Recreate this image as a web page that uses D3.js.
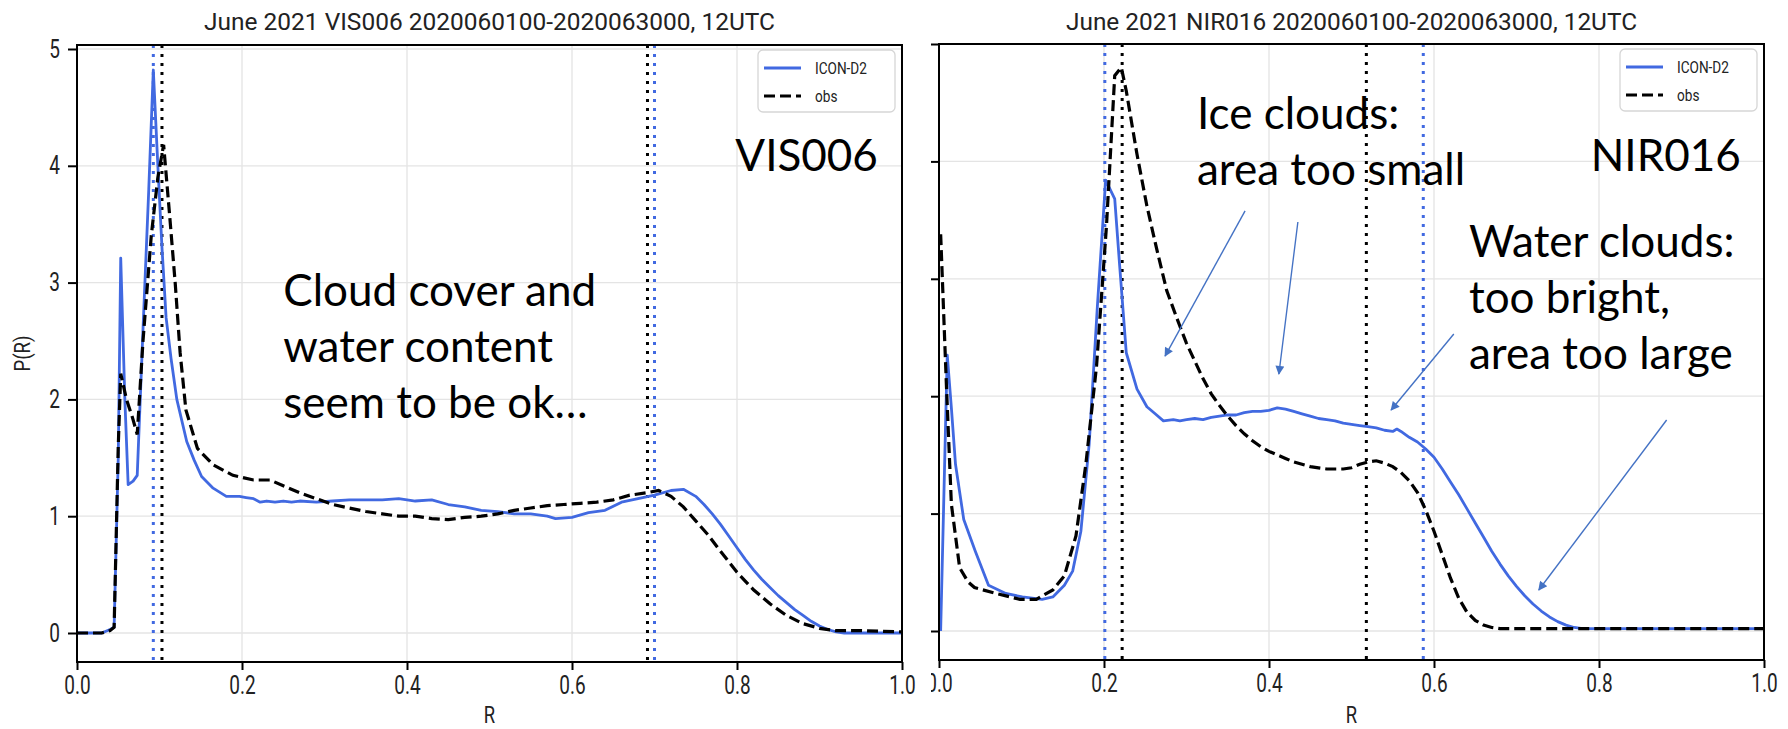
<!DOCTYPE html>
<html>
<head>
<meta charset="utf-8">
<script src="https://cdn.jsdelivr.net/npm/d3@7"></script>
<style>
  body { margin: 0; background: #fff; }
  text { font-family: Roboto, sans-serif; }
  .note { font-family: Lato, "Open Sans", sans-serif; }
</style>
</head>
<body>
<div id="chart"></div>
<script>
var xTicks = [0, 0.2, 0.4, 0.6, 0.8, 1.0];
var yTicks = [0, 1, 2, 3, 4, 5];
var seriesNames = ["ICON-D2", "obs"];
var titles = ["June 2021 VIS006 2020060100-2020063000, 12UTC",
              "June 2021 NIR016 2020060100-2020063000, 12UTC"];

// VIS006 histograms [R, P(R)]
var visModel = [[0,0],[0.02,0],[0.03,0],[0.04,0.03],[0.045,0.05],[0.05,1.5],[0.053,3.21],[0.058,2.0],
  [0.062,1.27],[0.068,1.3],[0.073,1.35],[0.08,2.6],[0.087,3.8],[0.0925,4.82],[0.098,4.0],[0.103,3.3],
  [0.108,2.7],[0.114,2.35],[0.121,2.0],[0.133,1.64],[0.142,1.48],[0.151,1.34],[0.165,1.24],[0.181,1.17],
  [0.197,1.17],[0.205,1.16],[0.214,1.15],[0.222,1.12],[0.23,1.13],[0.24,1.12],[0.25,1.13],[0.26,1.12],
  [0.27,1.13],[0.29,1.12],[0.31,1.13],[0.33,1.14],[0.35,1.14],[0.37,1.14],[0.39,1.15],[0.41,1.13],
  [0.43,1.14],[0.45,1.1],[0.47,1.08],[0.49,1.05],[0.51,1.04],[0.53,1.02],[0.55,1.02],[0.57,1.0],
  [0.58,0.98],[0.6,0.99],[0.62,1.03],[0.64,1.05],[0.66,1.12],[0.68,1.15],[0.7,1.18],[0.72,1.22],
  [0.735,1.23],[0.75,1.17],[0.76,1.1],[0.77,1.02],[0.78,0.93],[0.79,0.83],[0.8,0.73],[0.81,0.63],
  [0.82,0.54],[0.83,0.46],[0.84,0.39],[0.85,0.32],[0.86,0.26],[0.87,0.2],[0.88,0.15],[0.89,0.1],
  [0.9,0.06],[0.91,0.03],[0.92,0.01],[0.93,0],[1.0,0]];
var visObs = [[0,0],[0.03,0],[0.04,0.02],[0.045,0.05],[0.05,1.6],[0.053,2.22],[0.06,2.0],[0.067,1.85],
  [0.073,1.7],[0.08,2.5],[0.09,3.4],[0.098,3.9],[0.105,4.18],[0.112,3.6],[0.119,3.0],[0.125,2.4],
  [0.132,1.91],[0.146,1.58],[0.165,1.44],[0.189,1.35],[0.214,1.31],[0.234,1.31],[0.25,1.26],[0.27,1.2],
  [0.29,1.15],[0.31,1.1],[0.33,1.07],[0.35,1.04],[0.37,1.02],[0.39,1.0],[0.41,1.0],[0.43,0.98],
  [0.45,0.97],[0.47,0.99],[0.49,1.0],[0.51,1.02],[0.53,1.05],[0.55,1.07],[0.57,1.09],[0.59,1.1],
  [0.61,1.11],[0.63,1.12],[0.65,1.14],[0.67,1.18],[0.69,1.2],[0.705,1.22],[0.72,1.17],[0.735,1.08],
  [0.75,0.96],[0.765,0.84],[0.78,0.7],[0.8,0.52],[0.82,0.37],[0.84,0.25],[0.86,0.15],[0.88,0.08],
  [0.9,0.04],[0.92,0.02],[0.95,0.02],[1.0,0.01]];
var visModelMarks = [0.0925, 0.700];
var visObsMarks = [0.103, 0.6915];

// NIR016 histograms [R, P(R)]
var nirModel = [[0.002,0],[0.01,2.35],[0.015,1.9],[0.02,1.42],[0.03,0.95],[0.044,0.68],[0.06,0.39],
  [0.081,0.32],[0.101,0.29],[0.125,0.27],[0.138,0.29],[0.152,0.39],[0.162,0.51],[0.172,0.85],
  [0.182,1.59],[0.192,2.77],[0.202,3.84],[0.213,3.68],[0.219,3.11],[0.227,2.37],[0.24,2.06],
  [0.252,1.91],[0.262,1.85],[0.272,1.79],[0.284,1.8],[0.292,1.79],[0.3,1.8],[0.31,1.81],[0.32,1.8],
  [0.33,1.82],[0.34,1.83],[0.35,1.84],[0.36,1.84],[0.37,1.86],[0.38,1.87],[0.39,1.87],[0.4,1.88],
  [0.41,1.9],[0.42,1.89],[0.43,1.87],[0.44,1.85],[0.45,1.83],[0.46,1.81],[0.47,1.8],[0.48,1.79],
  [0.49,1.77],[0.5,1.76],[0.51,1.75],[0.52,1.74],[0.53,1.73],[0.54,1.71],[0.55,1.7],[0.555,1.72],
  [0.56,1.7],[0.57,1.65],[0.58,1.61],[0.59,1.55],[0.6,1.48],[0.61,1.38],[0.62,1.27],[0.63,1.16],
  [0.64,1.04],[0.65,0.92],[0.66,0.8],[0.67,0.68],[0.68,0.57],[0.69,0.47],[0.7,0.38],[0.71,0.3],
  [0.72,0.23],[0.73,0.17],[0.74,0.12],[0.75,0.08],[0.76,0.05],[0.77,0.03],[0.78,0.02],[1.0,0.02]];
var nirObs = [[0.002,3.38],[0.009,2.09],[0.015,1.08],[0.025,0.54],[0.035,0.42],[0.043,0.37],
  [0.069,0.32],[0.098,0.27],[0.118,0.27],[0.138,0.35],[0.152,0.47],[0.166,0.81],[0.178,1.42],
  [0.191,2.26],[0.203,3.45],[0.213,4.73],[0.221,4.8],[0.227,4.6],[0.24,4.06],[0.252,3.62],
  [0.264,3.25],[0.276,2.9],[0.288,2.67],[0.3,2.45],[0.31,2.3],[0.32,2.15],[0.33,2.02],[0.34,1.92],
  [0.35,1.83],[0.36,1.75],[0.37,1.68],[0.38,1.62],[0.39,1.57],[0.4,1.53],[0.41,1.5],[0.42,1.47],
  [0.43,1.44],[0.44,1.42],[0.45,1.4],[0.46,1.39],[0.47,1.38],[0.48,1.38],[0.49,1.38],[0.5,1.39],
  [0.51,1.42],[0.52,1.44],[0.53,1.45],[0.54,1.43],[0.55,1.4],[0.56,1.35],[0.57,1.28],[0.58,1.18],
  [0.59,1.03],[0.6,0.85],[0.61,0.65],[0.62,0.45],[0.63,0.28],[0.64,0.16],[0.65,0.09],[0.66,0.05],
  [0.67,0.03],[0.68,0.02],[1.0,0.02]];
var nirModelMarks = [0.201, 0.587];
var nirObsMarks = [0.222, 0.518];

// annotations, in data coordinates of each panel
var notes = [
  {panel: 0, r: 0.798, p: 3.955, lines: ["VIS006"]},
  {panel: 0, r: 0.25, p: 2.80, lines: ["Cloud cover and", "water content", "seem to be ok\u2026"]},
  {panel: 1, r: 0.3127, p: 4.276, lines: ["Ice clouds:", "area too small"]},
  {panel: 1, r: 0.790, p: 3.92, lines: ["NIR016"]},
  {panel: 1, r: 0.6424, p: 3.186, lines: ["Water clouds:", "too bright,", "area too large"]}
];
var arrows = [
  {panel: 1, from: [0.371, 3.578], to: [0.274, 2.342]},
  {panel: 1, from: [0.435, 3.484], to: [0.412, 2.189]},
  {panel: 1, from: [0.624, 2.530], to: [0.548, 1.882]},
  {panel: 1, from: [0.882, 1.797], to: [0.727, 0.349]}
];

var blue = "#4169e1", noteBlue = "#4472c4";

var panels = [
  {title: titles[0], model: visModel, obs: visObs, modelMarks: visModelMarks, obsMarks: visObsMarks,
   left: 77, right: 902, top: 45, bottom: 662, zero: 633, five: 49, yLabels: true, clipLeft: 0},
  {title: titles[1], model: nirModel, obs: nirObs, modelMarks: nirModelMarks, obsMarks: nirObsMarks,
   left: 939, right: 1764, top: 44, bottom: 660, zero: 631, five: 44, yLabels: false, clipLeft: 931}
];

var svg = d3.select("#chart").append("svg")
  .attr("width", 1788)
  .attr("height", 729);

var defs = svg.append("defs");
defs.append("marker")
  .attr("id", "head")
  .attr("viewBox", "0 0 10 10")
  .attr("refX", 9).attr("refY", 5)
  .attr("markerWidth", 11).attr("markerHeight", 9)
  .attr("markerUnits", "userSpaceOnUse")
  .attr("orient", "auto")
  .append("path")
  .attr("d", "M0,0L10,5L0,10Z")
  .attr("fill", noteBlue);

function squeeze(sel, k) {
  sel.each(function() {
    var w = this.getComputedTextLength();
    d3.select(this).attr("textLength", w * k).attr("lengthAdjust", "spacingAndGlyphs");
  });
}

panels.forEach(function(p, i) {
  var x = d3.scaleLinear().domain([0, 1]).range([p.left, p.right]);
  var y = d3.scaleLinear().domain([0, 5]).range([p.zero, p.five]);
  defs.append("clipPath").attr("id", "clip" + i)
    .append("rect").attr("x", p.clipLeft).attr("y", 0).attr("width", 1788).attr("height", 729);
  var g = svg.append("g").attr("clip-path", "url(#clip" + i + ")");

  // grid
  g.append("g").selectAll("line").data(xTicks.slice(1, -1)).join("line")
    .attr("x1", x).attr("x2", x).attr("y1", p.top).attr("y2", p.bottom)
    .attr("stroke", "#e4e4e4").attr("stroke-width", 1.3);
  g.append("g").selectAll("line").data(yTicks).join("line")
    .attr("x1", p.left).attr("x2", p.right).attr("y1", y).attr("y2", y)
    .attr("stroke", "#e4e4e4").attr("stroke-width", 1.3);

  // axes
  var yAxis = g.append("g")
    .attr("transform", "translate(" + p.left + ",0)")
    .call(d3.axisLeft(y).tickValues(yTicks).tickSize(9).tickPadding(8)
      .tickFormat(p.yLabels ? d3.format("d") : function() { return ""; }));
  var xAxis = g.append("g")
    .attr("transform", "translate(0," + p.bottom + ")")
    .call(d3.axisBottom(x).tickValues(xTicks).tickSize(8).tickPadding(6).tickFormat(d3.format(".1f")));
  [xAxis, yAxis].forEach(function(a) {
    a.select(".domain").remove();
    a.selectAll(".tick line").attr("stroke", "#000").attr("stroke-width", 2);
    a.selectAll(".tick text").attr("font-size", 25).attr("fill", "#222");
    squeeze(a.selectAll(".tick text"), 0.76);
  });

  // mean markers
  g.append("g").selectAll("line").data(p.modelMarks).join("line")
    .attr("x1", x).attr("x2", x).attr("y1", p.top).attr("y2", p.bottom)
    .attr("stroke", blue).attr("stroke-width", 3).attr("stroke-dasharray", "3,6");
  g.append("g").selectAll("line").data(p.obsMarks).join("line")
    .attr("x1", x).attr("x2", x).attr("y1", p.top).attr("y2", p.bottom)
    .attr("stroke", "#000").attr("stroke-width", 3).attr("stroke-dasharray", "3,6");

  var line = d3.line().x(function(d) { return x(d[0]); }).y(function(d) { return y(d[1]); });
  g.append("path").datum(p.model)
    .attr("d", line).attr("fill", "none")
    .attr("stroke", blue).attr("stroke-width", 2.8).attr("stroke-linejoin", "round");
  g.append("path").datum(p.obs)
    .attr("d", line).attr("fill", "none")
    .attr("stroke", "#000").attr("stroke-width", 3.2).attr("stroke-dasharray", "11,5");

  // frame
  g.append("rect")
    .attr("x", p.left).attr("y", p.top)
    .attr("width", p.right - p.left).attr("height", p.bottom - p.top)
    .attr("fill", "none").attr("stroke", "#000").attr("stroke-width", 2);

  // title and axis labels
  g.append("text")
    .attr("x", (p.left + p.right) / 2).attr("y", 30)
    .attr("text-anchor", "middle").attr("font-size", 24).attr("fill", "#222")
    .attr("textLength", 571).attr("lengthAdjust", "spacingAndGlyphs")
    .text(p.title);
  var rl = g.append("text")
    .attr("x", (p.left + p.right) / 2).attr("y", 723)
    .attr("text-anchor", "middle").attr("font-size", 23).attr("fill", "#222")
    .text("R");
  squeeze(rl, 0.8);
  if (p.yLabels) {
    var pl = g.append("text")
      .attr("transform", "translate(30," + (p.top + p.bottom) / 2 + ") rotate(-90)")
      .attr("text-anchor", "middle").attr("font-size", 22).attr("fill", "#222")
      .text("P(R)");
    squeeze(pl, 0.85);
  }

  // legend
  var lg = g.append("g").attr("transform", "translate(" + (p.right - 144) + "," + (p.top + 5) + ")");
  lg.append("rect").attr("width", 137).attr("height", 62).attr("rx", 5)
    .attr("fill", "#fff").attr("fill-opacity", 0.8).attr("stroke", "#d6d6d6").attr("stroke-width", 1.3);
  seriesNames.forEach(function(name, j) {
    var ly = 18 + j * 28;
    lg.append("line").attr("x1", 6).attr("x2", 43).attr("y1", ly).attr("y2", ly)
      .attr("stroke", j === 0 ? blue : "#000").attr("stroke-width", j === 0 ? 2.8 : 3.2)
      .attr("stroke-dasharray", j === 0 ? null : "11,5");
    var lt = lg.append("text").attr("x", 57).attr("y", ly + 6)
      .attr("font-size", 17).attr("fill", "#222").text(name);
    squeeze(lt, 0.8);
  });
});

// annotations
notes.forEach(function(n) {
  var p = panels[n.panel];
  var x = d3.scaleLinear().domain([0, 1]).range([p.left, p.right]);
  var y = d3.scaleLinear().domain([0, 5]).range([p.zero, p.five]);
  var t = svg.append("text").attr("class", "note")
    .attr("x", x(n.r)).attr("y", y(n.p))
    .attr("font-size", 44).attr("fill", "#000");
  n.lines.forEach(function(s, j) {
    t.append("tspan").attr("x", x(n.r)).attr("dy", j === 0 ? 0 : 56).text(s);
  });
});

arrows.forEach(function(a) {
  var p = panels[a.panel];
  var x = d3.scaleLinear().domain([0, 1]).range([p.left, p.right]);
  var y = d3.scaleLinear().domain([0, 5]).range([p.zero, p.five]);
  svg.append("line")
    .attr("x1", x(a.from[0])).attr("y1", y(a.from[1]))
    .attr("x2", x(a.to[0])).attr("y2", y(a.to[1]))
    .attr("stroke", noteBlue).attr("stroke-width", 1.4)
    .attr("marker-end", "url(#head)");
});
</script>
</body>
</html>
